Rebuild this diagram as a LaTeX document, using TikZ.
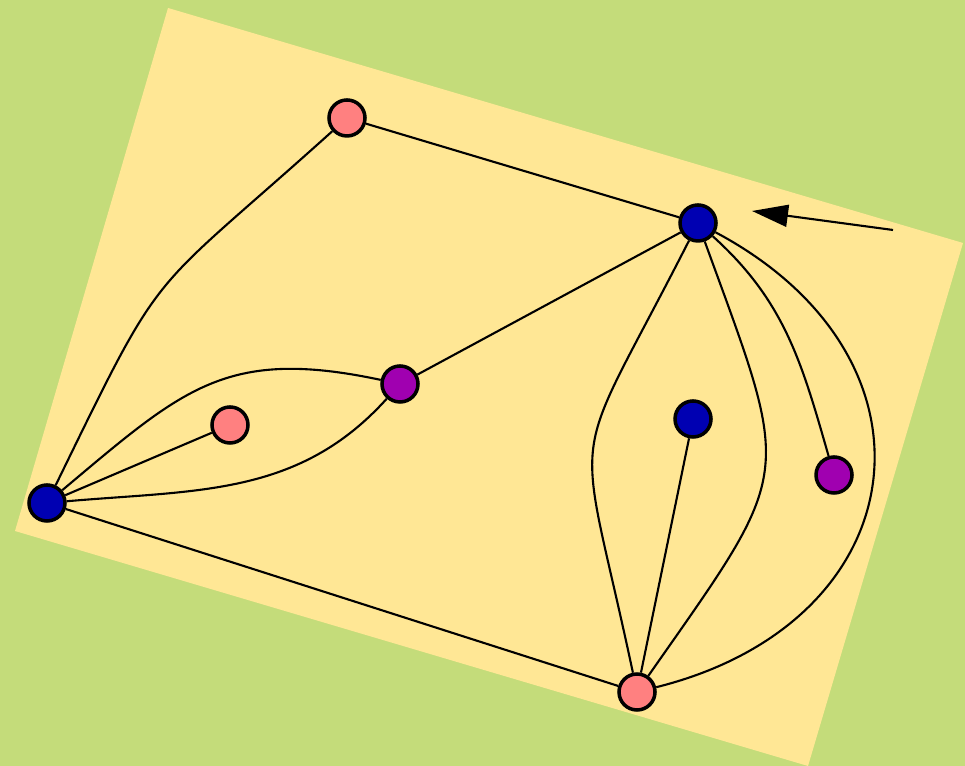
\documentclass[tikz,border=0pt]{standalone}
\usetikzlibrary{arrows.meta}
\definecolor{leaf}{RGB}{196,220,122}
\definecolor{sand}{RGB}{255,231,149}
\definecolor{navy}{RGB}{0,0,178}
\definecolor{salmon}{RGB}{255,128,128}
\definecolor{plum}{RGB}{160,0,176}
\tikzset{
  vertex/.style={circle, draw=black, line width=1pt, minimum size=0.36cm, inner sep=0pt},
  link/.style={line width=0.6pt}
}
\begin{document}
\begin{tikzpicture}
\useasboundingbox (0,0) rectangle (9.65,7.66);
\fill[leaf] (0,0) rectangle (9.65,7.66);
\fill[sand] (0.15,2.35) -- (1.68,7.58) -- (9.63,5.23) -- (8.08,0) -- cycle;
\node[vertex, fill=salmon] (a) at (3.47,6.48) {};
\node[vertex, fill=navy] (b) at (6.98,5.43) {};
\node[vertex, fill=plum] (c) at (4.00,3.82) {};
\node[vertex, fill=salmon] (d) at (2.30,3.41) {};
\node[vertex, fill=navy] (e) at (0.47,2.63) {};
\node[vertex, fill=navy] (f) at (6.93,3.47) {};
\node[vertex, fill=plum] (g) at (8.34,2.91) {};
\node[vertex, fill=salmon] (h) at (6.37,0.74) {};
\begin{scope}[link]
\draw (a) -- (b);
\draw (e) to[out=64, in=222, looseness=1.45] (a);
\draw (b) -- (c);
\draw (e) to[out=40, in=168, looseness=1.2] (c);
\draw (e) to[out=5, in=228] (c);
\draw (e) -- (d);
\draw (e) -- (h);
\draw (f) -- (h);
\draw (b) to[out=243, in=102, looseness=1.6] (h);
\draw (b) to[out=290, in=55, looseness=1.5] (h);
\draw (b) to[out=318, in=106] (g);
\draw (b) to[out=332, in=14, looseness=1.5] (h);
\end{scope}
\coordinate (tail) at (8.93,5.36);
\coordinate (tip) at (7.52,5.55);
\draw[link, -{Triangle[length=3.6mm, width=2.2mm]}] (tail) -- (tip);
\end{tikzpicture}
\end{document}
